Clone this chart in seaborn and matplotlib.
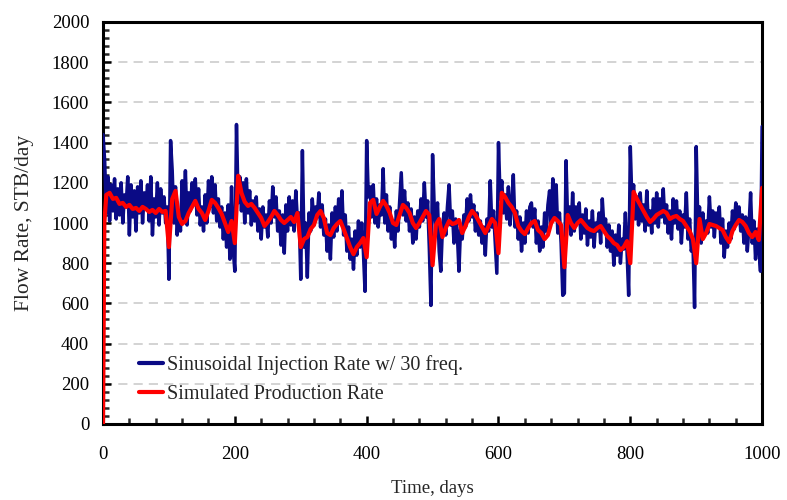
import numpy as np
import pandas as pd
import matplotlib
matplotlib.use("Agg")
import matplotlib.pyplot as plt
import seaborn as sns
from matplotlib.ticker import MultipleLocator

# Injection rate, sampled every 2.5 days (rows of 50 days), STB/day
inj_rate = [
    1440, 1310, 1050, 1230, 1010, 1190, 1060, 1220, 1020, 1170, 1040, 1200, 1000, 1140, 1080, 1230, 940, 1190, 1030, 1160,
    960, 1180, 1050, 1210, 1000, 1150, 1070, 1190, 1010, 1230, 940, 1120, 1030, 1200, 990, 1170, 1050, 1130, 1000, 1080,
    720, 1410, 1260, 1000, 1180, 940, 1060, 960, 1210, 1020, 1260, 990, 1150, 1060, 1200, 1090, 1220, 1040, 1170, 990,
    1080, 960, 1140, 1000, 1210, 1080, 1230, 1050, 1190, 1010, 1120, 980, 1080, 920, 1050, 880, 1090, 820, 1180, 870,
    760, 1490, 1100, 1230, 1060, 1200, 1000, 1220, 1050, 1160, 990, 1110, 1010, 1130, 960, 1070, 920, 1080, 980, 1040,
    930, 1110, 1000, 1180, 1030, 1130, 960, 1060, 890, 1040, 850, 1090, 960, 1130, 990, 1110, 960, 1160, 1010, 1050,
    720, 1360, 880, 1000, 730, 1050, 960, 1120, 990, 1080, 1030, 1150, 980, 1090, 940, 1020, 860, 990, 820, 1050,
    930, 1080, 960, 1120, 1010, 1160, 940, 1040, 860, 980, 820, 920, 770, 960, 840, 1010, 880, 1000, 860, 660,
    1410, 1130, 1180, 1030, 1190, 1000, 1120, 980, 1090, 1040, 1270, 1000, 1140, 960, 1080, 920, 1010, 880, 1060, 960,
    1110, 1250, 1040, 1160, 1010, 1100, 960, 1070, 900, 1030, 920, 1060, 980, 1120, 1010, 1200, 1030, 1110, 880, 590,
    1340, 1080, 980, 1100, 860, 760, 980, 1050, 940, 1080, 1190, 990, 1060, 900, 1020, 950, 760, 980, 920, 1040,
    980, 1120, 1010, 1140, 1030, 1090, 960, 1050, 940, 1010, 900, 980, 840, 1020, 960, 1210, 980, 1060, 910, 750,
    1400, 1120, 1210, 1050, 1140, 1020, 1180, 990, 1090, 1240, 980, 1060, 920, 1030, 860, 1000, 900, 1060, 950, 1080,
    1100, 980, 1070, 900, 1010, 860, 980, 880, 1050, 960, 1090, 1160, 1000, 1220, 1030, 1190, 950, 1050, 900, 640,
    650, 1310, 1000, 1080, 940, 1150, 960, 1080, 1000, 1100, 920, 1040, 950, 1070, 890, 1010, 930, 1060, 880, 1000,
    960, 1050, 900, 1120, 980, 1020, 880, 990, 860, 960, 790, 940, 840, 990, 800, 920, 870, 1050, 860, 640,
    1380, 1100, 1190, 1020, 1130, 990, 1150, 1010, 1090, 960, 1160, 990, 1060, 950, 1120, 1000, 1150, 980, 1120, 1030,
    1170, 1000, 1090, 950, 1060, 920, 1120, 1000, 1110, 970, 1060, 900, 1040, 980, 1150, 920, 1020, 860, 900, 580,
    1380, 1000, 1080, 900, 1050, 940, 1010, 950, 1130, 980, 1060, 930, 1050, 990, 1080, 900, 1020, 830, 960, 880,
    1000, 920, 1060, 970, 1100, 1000, 1080, 960, 1040, 900, 1030, 860, 980, 1150, 900, 1010, 820, 970, 880, 760,
    1480,
]
inj_days = np.arange(len(inj_rate)) * 2.5

# Simulated production rate, STB/day
prod_days = [0, 2] + list(range(5, 1001, 5))
prod_rate = [
    0, 1000,
    1140, 1150, 1120, 1125, 1095, 1100, 1080, 1090, 1070, 1075,
    1060, 1080, 1070, 1055, 1065, 1050, 1070, 1055, 1060, 880,
    1120, 1160, 1030, 995, 1010, 1050, 1080, 1110, 1070, 1050,
    1015, 1060, 1115, 1100, 1075, 1045, 1000, 955, 1010, 900,
    1235, 1150, 1105, 1085, 1095, 1075, 1050, 1025, 985, 1005,
    1030, 1060, 1040, 1015, 1000, 1015, 1030, 1005, 1050, 880,
    920, 930, 970, 990, 1040, 1060, 1025, 950, 940, 975,
    995, 1010, 970, 925, 880, 845, 880, 900, 925, 830,
    1100, 1115, 1045, 1080, 1110, 1085, 1050, 1000, 990, 1040,
    1090, 1075, 1050, 1000, 975, 1000, 1030, 1060, 1040, 790,
    990, 1020, 930, 975, 1010, 995, 1000, 1015, 950, 985,
    1030, 1060, 1040, 1010, 980, 950, 985, 1020, 1000, 850,
    1150, 1130, 1100, 1080, 1050, 985, 960, 945, 975, 1000,
    1010, 965, 950, 920, 940, 1000, 1025, 1010, 990, 780,
    1040, 1000, 975, 1000, 1015, 995, 975, 965, 960, 975,
    985, 960, 935, 920, 900, 890, 865, 880, 910, 800,
    1155, 1120, 1090, 1060, 1030, 1005, 1020, 1040, 1050, 1060,
    1050, 1020, 1030, 1035, 1020, 1010, 985, 960, 920, 800,
    1020, 920, 950, 995, 990, 985, 975, 965, 930, 905,
    960, 990, 1015, 1005, 985, 950, 930, 955, 915, 1175,
]

inj_label = "Sinusoidal Injection Rate w/ 30 freq."
prod_label = "Simulated Production Rate"

inj_df = pd.DataFrame({"day": inj_days, "rate": inj_rate})
prod_df = pd.DataFrame({"day": prod_days, "rate": prod_rate})

sns.set_style("ticks")
plt.rcParams["font.family"] = ["Liberation Serif", "DejaVu Serif"]

fig = plt.figure(figsize=(7.87, 5.0), dpi=100)
ax = fig.add_axes([0.1309, 0.152, 0.8375, 0.804])

sns.lineplot(data=inj_df, x="day", y="rate", ax=ax, color="#0a0a85",
             linewidth=2.5, label=inj_label, zorder=3)
sns.lineplot(data=prod_df, x="day", y="rate", ax=ax, color="#ff0000",
             linewidth=3.0, label=prod_label, zorder=4)

ax.set_xlim(0, 1000)
ax.set_ylim(0, 2000)
ax.xaxis.set_major_locator(MultipleLocator(200))
ax.xaxis.set_minor_locator(MultipleLocator(40))
ax.yaxis.set_major_locator(MultipleLocator(200))
ax.yaxis.set_minor_locator(MultipleLocator(40))

ax.yaxis.grid(True, which="major", color="#c8c8c8", linestyle=(0, (6, 4)),
              linewidth=1.1, zorder=0)
ax.set_axisbelow(True)

for side in ["left", "right", "top", "bottom"]:
    ax.spines[side].set_visible(True)
    ax.spines[side].set_linewidth(2.2)
    ax.spines[side].set_color("black")

ax.tick_params(which="major", direction="in", length=6, width=1.8,
               labelsize=13.5, colors="black")
ax.tick_params(which="minor", direction="in", length=4, width=1.8)
ax.tick_params(axis="x", which="major", pad=16)
ax.tick_params(axis="y", which="major", pad=10)

ax.set_xlabel("Time, days", fontsize=13.5, labelpad=12)
ax.set_ylabel("Flow Rate, STB/day", fontsize=15.5, labelpad=13)

leg = ax.legend(loc="lower left", bbox_to_anchor=(0.042, 0.03), frameon=False,
                fontsize=14.5, handlelength=1.2, handletextpad=0.2,
                labelspacing=0.5, borderaxespad=0)
for line in leg.get_lines():
    line.set_linewidth(3.0)

fig.savefig("out.png", dpi=100)
